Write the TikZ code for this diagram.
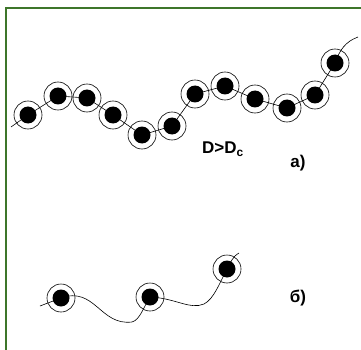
\documentclass[tikz,border=0pt]{standalone}
\usepackage{fontspec}
\setmainfont{Liberation Sans}
\usepackage{xcolor}
\usepackage{tikz}
\definecolor{framegreen}{RGB}{62,118,42}

\begin{document}
\begin{tikzpicture}[x=1pt, y=-1pt,
  bead/.style={circle, draw, line width=0.6pt, minimum size=28pt, inner sep=0pt,
    path picture={\fill[black] (path picture bounding box.center) circle (8.5pt);}},
  chain/.style={line width=0.6pt},
  lbl/.style={font=\bfseries\fontsize{17}{17}\selectfont},
]
\useasboundingbox (0,0) rectangle (361,350);
\draw[framegreen, line width=2.5pt] (6,350) -- (6,8) -- (361,8);

% dense chain
\node[bead] (a1) at (28,115) {};
\node[bead] (a2) at (58,96) {};
\node[bead] (a3) at (87,98) {};
\node[bead] (a4) at (113,115) {};
\node[bead] (a5) at (142,135) {};
\node[bead] (a6) at (172,126) {};
\node[bead] (a7) at (195,94) {};
\node[bead] (a8) at (225,86) {};
\node[bead] (a9) at (255,99) {};
\node[bead] (a10) at (287,108) {};
\node[bead] (a11) at (315,95) {};
\node[bead] (a12) at (335,63) {};
\coordinate (astart) at (11,127);
\coordinate (aend) at (358,37);
\draw[chain] (astart) -- (a1.center) -- (a2.center) -- (a3.center) -- (a4.center)
  -- (a5.center) -- (a6.center) -- (a7.center) -- (a8.center) -- (a9.center)
  -- (a10.center) -- (a11.center) -- (a12.center) to[out=70, in=200] (aend);
\node[lbl] (crit) at (223,149) {D>D\textsubscript{c}};
\node[lbl] (tagA) at (298,163) {a)};

% sparse chain
\node[bead] (b1) at (61,298) {};
\node[bead] (b2) at (150,297) {};
\node[bead] (b3) at (227,269) {};
\coordinate (bstart) at (40,306);
\coordinate (bend) at (239,253);
\draw[chain] (bstart) -- (b1.center)
  .. controls (95,286) and (100,326) .. (132,322)
  .. controls (140,320) and (144,306) .. (b2.center)
  .. controls (175,298) and (190,310) .. (204,304)
  .. controls (214,299) and (220,282) .. (b3.center)
  to[out=60, in=210] (bend);
\node[lbl] (tagB) at (298,298) {б)};
\end{tikzpicture}
\end{document}
